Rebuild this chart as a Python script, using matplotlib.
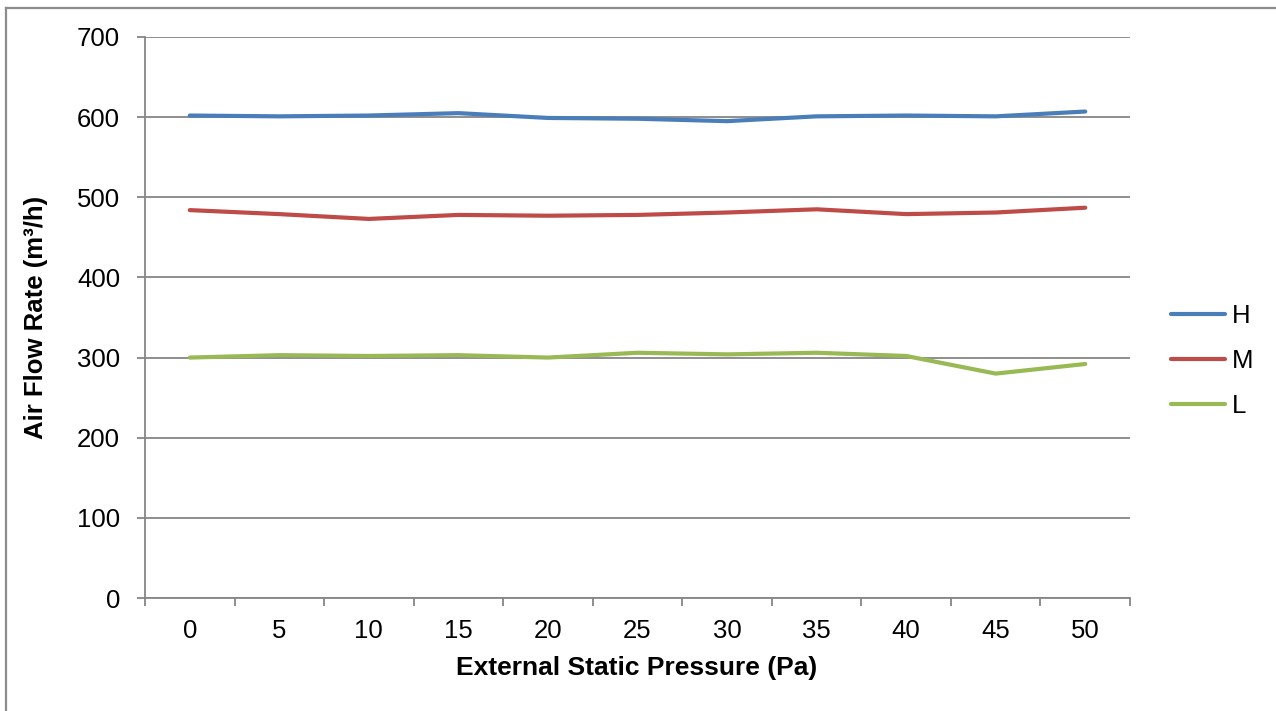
import matplotlib.pyplot as plt
from matplotlib.lines import Line2D
from matplotlib.ticker import FixedLocator, NullFormatter

plt.rcParams['font.family'] = ['Liberation Sans', 'DejaVu Sans']

pressure = ['0', '5', '10', '15', '20', '25', '30', '35', '40', '45', '50']
flow_h = [602, 601, 602, 605, 599, 598, 595, 601, 602, 601, 607]
flow_m = [484, 479, 473, 478, 477, 478, 481, 485, 479, 481, 487]
flow_l = [300, 303, 302, 303, 300, 306, 304, 306, 302, 280, 292]

W, H = 1276, 711
fig = plt.figure(figsize=(W / 100, H / 100), dpi=100)
ax = fig.add_axes([145 / W, 1 - 598 / H, (1130 - 145) / W, (598 - 37) / H])

x = range(len(pressure))
ax.plot(x, flow_h, c='#4a7ebb', lw=3, label='H', solid_capstyle='round')
ax.plot(x, flow_m, c='#be4b48', lw=3, label='M', solid_capstyle='round')
ax.plot(x, flow_l, c='#98b954', lw=3, label='L', solid_capstyle='round')

ax.set_ylim(0, 700)
ax.set_yticks(range(0, 701, 100))
ax.set_xlim(-0.5, len(pressure) - 0.5)

# tick marks on category boundaries, labels in the middle
ax.xaxis.set_major_locator(FixedLocator([i - 0.5 for i in range(len(pressure) + 1)]))
ax.xaxis.set_major_formatter(NullFormatter())
ax.xaxis.set_minor_locator(FixedLocator(list(x)))
ax.set_xticklabels(pressure, minor=True)
ax.tick_params(axis='x', which='major', length=6, width=1.3, color='#868686', direction='out')
ax.tick_params(axis='x', which='minor', length=0, pad=15, labelsize=18.5)
ax.tick_params(axis='y', length=6, width=1.3, color='#868686', direction='out', pad=12, labelsize=18.5)

ax.grid(True, axis='y', color='#868686', lw=1.3)
ax.set_axisbelow(True)
for s in ['top', 'right']:
    ax.spines[s].set_visible(False)
for s in ['left', 'bottom']:
    ax.spines[s].set_color('#868686')
    ax.spines[s].set_linewidth(1.3)

ax.set_xlabel('External Static Pressure (Pa)', fontsize=19, fontweight='bold', va='center')
ax.xaxis.set_label_coords(0.4995, -0.125)
ax.set_ylabel('Air Flow Rate (m³/h)', fontsize=18.5, fontweight='bold', va='center')
ax.yaxis.set_label_coords(-0.111, 0.5)

ax.legend(loc='center left', bbox_to_anchor=(1148 / W, 1 - 361 / H), bbox_transform=fig.transFigure,
          frameon=False, fontsize=18.5, handlelength=2.1, handletextpad=0.25, labelspacing=0.82)

# outer chart border (partly cut off)
fig.add_artist(Line2D([6 / W, 1], [1 - 8 / H, 1 - 8 / H], transform=fig.transFigure, color='#8c8c8c', lw=1.6))
fig.add_artist(Line2D([6 / W, 6 / W], [0, 1 - 8 / H], transform=fig.transFigure, color='#8c8c8c', lw=1.6))

fig.savefig('out.png', dpi=100)
